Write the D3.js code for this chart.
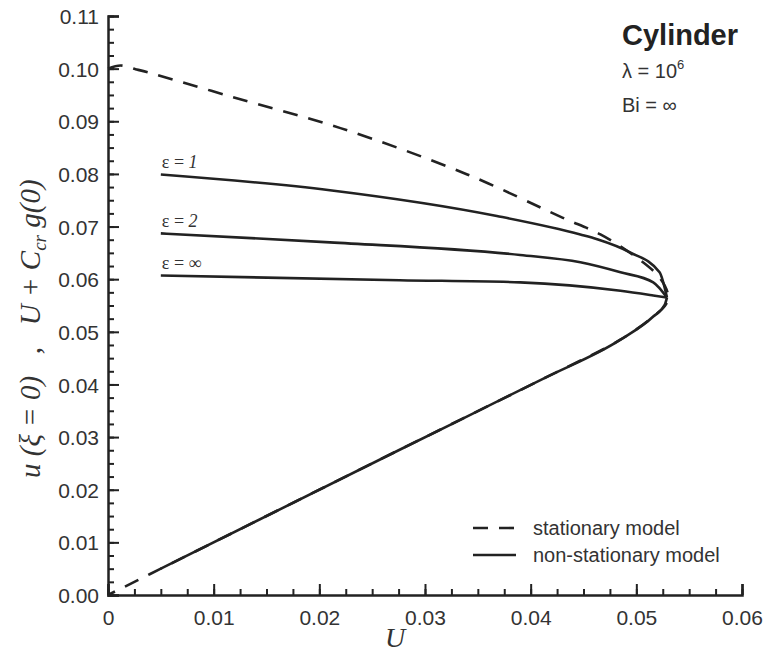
<!DOCTYPE html>
<html>
<head>
<meta charset="utf-8">
<script src="https://cdn.jsdelivr.net/npm/d3@7"></script>
<style>
  body { margin: 0; background: #fff; }
  svg { display: block; }
  .tick text { font-family: "Liberation Sans", Arial, sans-serif; fill: #333; }
</style>
</head>
<body>
<div id="chart"></div>
<script>
// stationary model: upper branch down to the turning point, then lower branch back to 0
const stationaryU = [0, 0.0012, 0.0026, 0.0043, 0.0118, 0.022, 0.034, 0.043, 0.0466, 0.0499, 0.0522, 0.0530,
                     0.0528, 0.0516, 0.0485, 0.0414, 0.0276, 0.005, 0];
const stationaryV = [0.1000, 0.1006, 0.0999, 0.0990, 0.0946, 0.0887, 0.0799, 0.0717, 0.0685, 0.0643, 0.0603, 0.0570,
                     0.0552, 0.0529, 0.0485, 0.0413, 0.0276, 0.0050, 0];

// non-stationary model, upper branches for each epsilon
const eps1U = [0.005, 0.021, 0.0368, 0.0447, 0.0463, 0.0494, 0.0522, 0.0529];
const eps1V = [0.0799, 0.0769, 0.0720, 0.0685, 0.0676, 0.0651, 0.0613, 0.0565];
const eps2U = [0.005, 0.021, 0.039, 0.0447, 0.0485, 0.0516, 0.0529];
const eps2V = [0.0687, 0.0670, 0.0646, 0.0632, 0.0613, 0.0594, 0.0565];
const epsInfU = [0.005, 0.0276, 0.039, 0.0485, 0.0516, 0.0529];
const epsInfV = [0.0607, 0.0598, 0.0594, 0.0578, 0.0569, 0.0565];
// shared lower branch
const lowerU = [0.005, 0.0276, 0.0414, 0.0485, 0.0516, 0.0527, 0.0529];
const lowerV = [0.0050, 0.0276, 0.0413, 0.0485, 0.0529, 0.0552, 0.0565];

const epsLabels = ["1", "2", "∞"];
const xTicks = [0, 0.01, 0.02, 0.03, 0.04, 0.05, 0.06];
const yTicks = [0, 0.01, 0.02, 0.03, 0.04, 0.05, 0.06, 0.07, 0.08, 0.09, 0.10, 0.11];

const width = 766, height = 660;
const ink = "#222";

const svg = d3.select("#chart").append("svg")
  .attr("width", width)
  .attr("height", height);

const x = d3.scaleLinear().domain([0, 0.06]).range([108, 742]);
const y = d3.scaleLinear().domain([0, 0.11]).range([595, 16]);

// minor ticks (inward)
svg.append("g")
  .attr("transform", `translate(0,${y(0)})`)
  .call(d3.axisBottom(x).tickValues(d3.range(0, 0.0601, 0.0025)).tickSize(-6).tickFormat(""))
  .call(g => g.select(".domain").remove());
svg.append("g")
  .attr("transform", `translate(${x(0)},0)`)
  .call(d3.axisLeft(y).tickValues(d3.range(0, 0.1101, 0.0025)).tickSize(-6).tickFormat(""))
  .call(g => g.select(".domain").remove());

// major ticks + labels
const xAxis = svg.append("g")
  .attr("transform", `translate(0,${y(0)})`)
  .call(d3.axisBottom(x).tickValues(xTicks).tickSize(-11).tickPadding(15)
    .tickFormat(d => d === 0 ? "0" : d3.format(".2f")(d)));
const yAxis = svg.append("g")
  .attr("transform", `translate(${x(0)},0)`)
  .call(d3.axisLeft(y).tickValues(yTicks).tickSize(-11).tickPadding(9)
    .tickFormat(d3.format(".2f")));

[xAxis, yAxis].forEach(g => {
  g.select(".domain").attr("stroke", ink).attr("stroke-width", 2.5);
  g.selectAll(".tick text").attr("font-size", 21);
});
yAxis.selectAll(".tick text").attr("dy", "0.36em");
svg.selectAll(".tick line").attr("stroke", ink).attr("stroke-width", 2);

const zip = (us, vs) => us.map((u, i) => [u, vs[i]]);

// stationary (dashed) turns back in U, so a Catmull-Rom curve
const loopLine = d3.line()
  .x(d => x(d[0]))
  .y(d => y(d[1]))
  .curve(d3.curveCatmullRom.alpha(0.5));

svg.append("path")
  .attr("d", loopLine(zip(stationaryU, stationaryV)))
  .attr("fill", "none")
  .attr("stroke", ink)
  .attr("stroke-width", 2.6)
  .attr("stroke-dasharray", "15,11");

// non-stationary (solid), each branch is monotone in U
const branchLine = d3.line()
  .x(d => x(d[0]))
  .y(d => y(d[1]))
  .curve(d3.curveMonotoneX);

const solid = [zip(eps1U, eps1V), zip(eps2U, eps2V), zip(epsInfU, epsInfV), zip(lowerU, lowerV)];
svg.selectAll(".ns").data(solid).enter().append("path")
  .attr("class", "ns")
  .attr("d", branchLine)
  .attr("fill", "none")
  .attr("stroke", ink)
  .attr("stroke-width", 2.6);

// epsilon labels
solid.slice(0, 3).forEach((s, i) => {
  const p = s[0];
  const t = svg.append("text")
    .attr("x", x(p[0]) + 1)
    .attr("y", y(p[1]) - 6)
    .attr("font-family", "'Liberation Serif', 'Times New Roman', serif")
    .attr("font-size", 18)
    .attr("fill", "#333");
  t.append("tspan").text("ε = ");
  t.append("tspan").attr("font-style", i < 2 ? "italic" : "normal").text(epsLabels[i]);
});

// axis titles
svg.append("text")
  .attr("x", 395).attr("y", 647)
  .attr("text-anchor", "middle")
  .attr("font-family", "'Liberation Serif', 'Times New Roman', serif")
  .attr("font-style", "italic")
  .attr("font-size", 28)
  .attr("fill", "#333")
  .text("U");

const yl = svg.append("text")
  .attr("transform", "translate(40,478) rotate(-90)")
  .attr("font-family", "'Liberation Serif', 'Times New Roman', serif")
  .attr("font-style", "italic")
  .attr("font-size", 29)
  .attr("fill", "#333")
  .style("white-space", "pre");
yl.append("tspan").text("u (ξ = 0)   ,   U + C");
yl.append("tspan").attr("font-size", 19).attr("dy", 6).text("cr");
yl.append("tspan").attr("dy", -6).text(" g(0)");

// annotation
const sans = "'Liberation Sans', Arial, sans-serif";
svg.append("text").attr("x", 622).attr("y", 45)
  .attr("font-family", sans).attr("font-weight", "bold").attr("font-size", 29)
  .attr("fill", "#222").text("Cylinder");
const lam = svg.append("text").attr("x", 622).attr("y", 78)
  .attr("font-family", sans).attr("font-size", 20).attr("fill", "#333");
lam.append("tspan").text("λ = 10");
lam.append("tspan").attr("font-size", 13).attr("dy", -9).text("6");
svg.append("text").attr("x", 622).attr("y", 112)
  .attr("font-family", sans).attr("font-size", 20).attr("fill", "#333")
  .text("Bi = ∞");

// legend
const legend = [
  { label: "stationary model", dash: "15,11", y: 528 },
  { label: "non-stationary model", dash: null, y: 555 }
];
legend.forEach(d => {
  svg.append("line")
    .attr("x1", 473).attr("x2", 516).attr("y1", d.y).attr("y2", d.y)
    .attr("stroke", ink).attr("stroke-width", 2.6)
    .attr("stroke-dasharray", d.dash);
  svg.append("text")
    .attr("x", 533).attr("y", d.y + 7)
    .attr("font-family", sans).attr("font-size", 20).attr("fill", "#333")
    .text(d.label);
});
</script>
</body>
</html>
